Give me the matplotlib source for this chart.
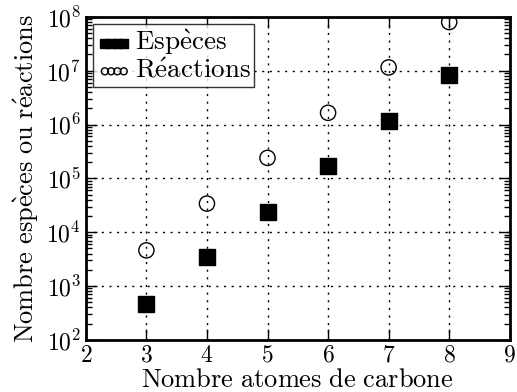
# coding: utf-8
import numpy as np
import matplotlib
matplotlib.use('Agg')
from matplotlib import pyplot as plt
from matplotlib.ticker import LogLocator

# données : nombre d'atomes de carbone
carbone = [3, 4, 5, 6, 7, 8]
especes = [470, 3400, 24000, 170000, 1.15e6, 8.3e6]
reactions = [4600, 34000, 240000, 1.65e6, 1.15e7, 8.0e7]

plt.rcParams['font.family'] = ['cmr10', 'DejaVu Serif']
plt.rcParams['mathtext.fontset'] = 'cm'
plt.rcParams['axes.formatter.use_mathtext'] = True

fig = plt.figure(figsize=(5.17, 3.92), dpi=100)
ax = fig.add_axes([0.166, 0.133, 0.820, 0.824])

ax.scatter(carbone, especes, marker='s', s=120, c='black',
           label=r'$\mathrm{Esp\grave{e}ces}$', zorder=3)
ax.scatter(carbone, reactions, marker='o', s=120, facecolors='none',
           edgecolors='black', linewidths=1,
           label=r'$\mathrm{R\acute{e}actions}$', zorder=3)

ax.set_yscale('log')
ax.set_xlim(2, 9)
ax.set_ylim(1e2, 1e8)
ax.set_xticks(range(2, 10))
ax.yaxis.set_major_locator(LogLocator(base=10, numticks=20))
ax.yaxis.set_minor_locator(LogLocator(base=10, subs=np.arange(2, 10), numticks=20))

ax.grid(True, which='major', color='black', linestyle=(0, (1.5, 4)), linewidth=1)
ax.tick_params(which='both', direction='in', top=True, right=True, labelsize=17)
ax.tick_params(which='major', length=8, width=1)
ax.tick_params(which='minor', length=4, width=1)
for s in ax.spines.values():
    s.set_linewidth(2)

ax.set_xlabel(r'$\mathrm{Nombre\ atomes\ de\ carbone}$', fontsize=19, labelpad=1)
ax.set_ylabel(r'$\mathrm{Nombre\ esp\grave{e}ces\ ou\ r\acute{e}actions}$', fontsize=19)

leg = ax.legend(loc='upper left', scatterpoints=4, scatteryoffsets=[0.35],
                fontsize=19.5, fancybox=False, handlelength=1.3, handletextpad=0.1,
                borderpad=0.15, labelspacing=0.05, borderaxespad=0.25)
leg.legend_handles[0].set_sizes([45, 45, 45, 45])
leg.legend_handles[1].set_sizes([25, 25, 25, 25])
leg.get_frame().set_edgecolor('black')
leg.get_frame().set_linewidth(1)

fig.savefig('out.png', dpi=100)
